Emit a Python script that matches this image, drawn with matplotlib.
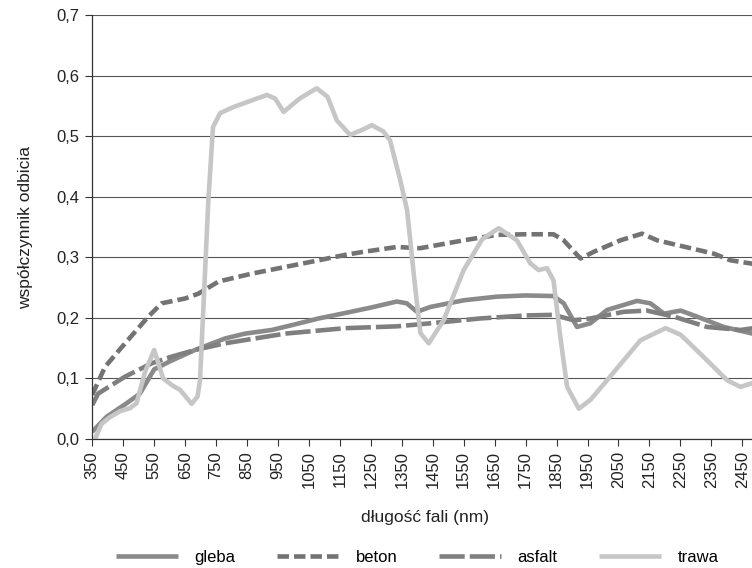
import matplotlib
matplotlib.use("Agg")
import matplotlib.pyplot as plt

plt.rcParams['font.family'] = ['Liberation Sans', 'DejaVu Sans']

# wavelength (nm) and reflectance
gleba_nm = [350, 397, 461, 504, 550, 600, 682, 779, 844, 930, 995, 1081, 1167, 1250, 1334,
            1366, 1399, 1442, 1550, 1657, 1750, 1840, 1873, 1916, 1959, 2013, 2110, 2153,
            2197, 2251, 2304, 2390, 2500]
gleba = [0.012, 0.037, 0.059, 0.075, 0.115, 0.128, 0.147, 0.166, 0.174, 0.180, 0.188, 0.199,
         0.208, 0.217, 0.227, 0.224, 0.210, 0.218, 0.229, 0.235, 0.237, 0.236, 0.224, 0.185,
         0.191, 0.213, 0.228, 0.224, 0.207, 0.212, 0.202, 0.185, 0.172]

beton_nm = [350, 391, 456, 531, 574, 650, 693, 758, 865, 973, 1081, 1167, 1226, 1334, 1409,
            1550, 1657, 1750, 1840, 1873, 1927, 1970, 2056, 2126, 2175, 2283, 2358, 2412, 2500]
beton = [0.073, 0.119, 0.158, 0.202, 0.224, 0.232, 0.240, 0.260, 0.273, 0.284, 0.295, 0.304,
         0.309, 0.317, 0.315, 0.328, 0.337, 0.338, 0.338, 0.328, 0.298, 0.309, 0.328, 0.339,
         0.328, 0.315, 0.306, 0.295, 0.288]

asfalt_nm = [350, 369, 456, 542, 600, 682, 779, 973, 1167, 1334, 1442, 1603, 1750, 1840,
             1905, 1959, 2067, 2142, 2229, 2336, 2444, 2500]
asfalt = [0.056, 0.075, 0.103, 0.125, 0.135, 0.147, 0.158, 0.174, 0.183, 0.186, 0.191, 0.199,
          0.204, 0.205, 0.196, 0.199, 0.210, 0.212, 0.202, 0.185, 0.180, 0.184]

trawa_nm = [359, 380, 407, 440, 472, 493, 520, 550, 579, 610, 634, 671, 690, 698, 712, 725,
            740, 763, 806, 860, 914, 941, 968, 1020, 1075, 1110, 1140, 1183, 1220, 1253, 1290,
            1312, 1345, 1367, 1393, 1410, 1437, 1485, 1550, 1610, 1663, 1722, 1765, 1792, 1819,
            1840, 1862, 1884, 1922, 1960, 2013, 2121, 2202, 2251, 2336, 2401, 2444, 2500]
trawa = [0.0, 0.025, 0.036, 0.046, 0.051, 0.059, 0.110, 0.147, 0.100, 0.088, 0.081, 0.058,
         0.070, 0.097, 0.250, 0.394, 0.515, 0.538, 0.548, 0.558, 0.568, 0.562, 0.540, 0.562,
         0.579, 0.565, 0.526, 0.502, 0.510, 0.518, 0.508, 0.493, 0.427, 0.378, 0.251, 0.175,
         0.158, 0.196, 0.279, 0.330, 0.348, 0.328, 0.290, 0.279, 0.282, 0.262, 0.169, 0.086,
         0.050, 0.065, 0.097, 0.163, 0.183, 0.172, 0.130, 0.097, 0.086, 0.095]

xticks = list(range(350, 2451, 100))
yticks = [0.0, 0.1, 0.2, 0.3, 0.4, 0.5, 0.6, 0.7]

fig = plt.figure(figsize=(7.52, 5.68), dpi=100)
ax = fig.add_axes([0.1227, 0.2271, 0.885, 0.7465])

lw = 3.3
ax.plot(gleba_nm, gleba, color='#8a8a8a', lw=lw, solid_joinstyle='round',
        solid_capstyle='butt', label='gleba')
ax.plot(beton_nm, beton, color='#737373', lw=lw, dashes=(2.5, 1.1), label='beton')
ax.plot(asfalt_nm, asfalt, color='#7f7f7f', lw=lw, dashes=(5.5, 1.1), label='asfalt')
ax.plot(trawa_nm, trawa, color='#c6c6c6', lw=lw, solid_joinstyle='round',
        solid_capstyle='butt', label='trawa')

ax.set_xlim(350, 2500)
ax.set_ylim(0, 0.7)
ax.set_yticks(yticks)
ax.set_yticklabels([('%.1f' % v).replace('.', ',') for v in yticks], fontsize=12)
ax.set_xticks(xticks)
ax.set_xticklabels([str(v) for v in xticks], rotation=90, fontsize=12)
ax.tick_params(axis='both', direction='out', length=5, width=0.8, color='#333333',
               labelcolor='#222222')
ax.tick_params(axis='y', pad=4)

ax.grid(axis='y', color='#555555', lw=0.8)
ax.set_axisbelow(True)
for s in ['top', 'right']:
    ax.spines[s].set_visible(False)
for s in ['left', 'bottom']:
    ax.spines[s].set_color('#333333')
    ax.spines[s].set_linewidth(0.9)

ax.set_xlabel('długość fali (nm)', fontsize=12.5, color='#222222', labelpad=16)
ax.set_ylabel('współczynnik odbicia', fontsize=12.5, color='#222222', labelpad=17)

fig.legend(loc='center', bbox_to_anchor=(0.555, 0.019), ncol=4, frameon=False,
           fontsize=12, handlelength=3.7, handletextpad=1.0, columnspacing=2.5)

fig.savefig('out.png', dpi=100)
